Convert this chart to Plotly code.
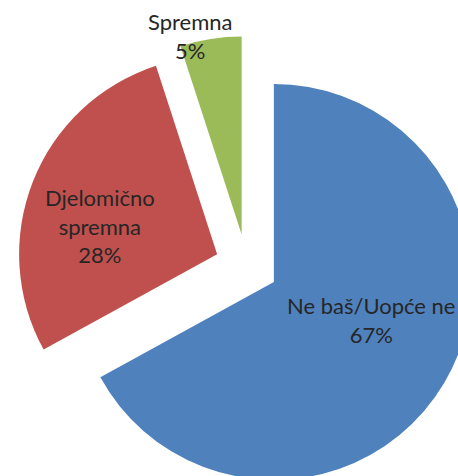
import plotly.graph_objects as go

labels = ["Ne baš/Uopće ne", "Djelomično spremna", "Spremna"]
label_lines = ["Ne baš/Uopće ne", "Djelomično<br>spremna", "Spremna"]
values = [67, 28, 5]
colors = ["#4F81BD", "#C0504D", "#9BBB59"]

W, H = 480, 500
FONT = dict(family="Lato, 'Open Sans', sans-serif", size=22, color="#262626")

fig = go.Figure(go.Pie(
    labels=labels,
    values=values,
    textinfo="none",
    marker=dict(colors=colors, line=dict(width=0)),
    sort=False,
    direction="clockwise",
    rotation=0,
    pull=[0.16, 0.16, 0.16],
    showlegend=False,
    hoverinfo="label+percent",
    domain=dict(x=[16.9 / W, 476.3 / W], y=[1 - 495.5 / H, 1 - 36.1 / H]),
))

# label anchor points (pixels from top-left) for each slice's data label
label_px = [(371, 320), (100, 226), (190, 36)]
total = sum(values)
for txt, v, (px, py) in zip(label_lines, values, label_px):
    fig.add_annotation(
        text=f"{txt}<br>{round(100 * v / total)}%",
        x=px / W, y=1 - py / H, xref="paper", yref="paper",
        xanchor="center", yanchor="middle", showarrow=False, font=FONT,
    )

fig.update_layout(
    width=W, height=H,
    margin=dict(l=0, r=0, t=0, b=0),
    paper_bgcolor="white",
    plot_bgcolor="white",
)

fig.write_html(
    "out.html",
    config={"displayModeBar": False},
    post_script="document.body.style.margin='0';document.body.style.overflow='hidden';document.documentElement.style.overflow='hidden';",
)
